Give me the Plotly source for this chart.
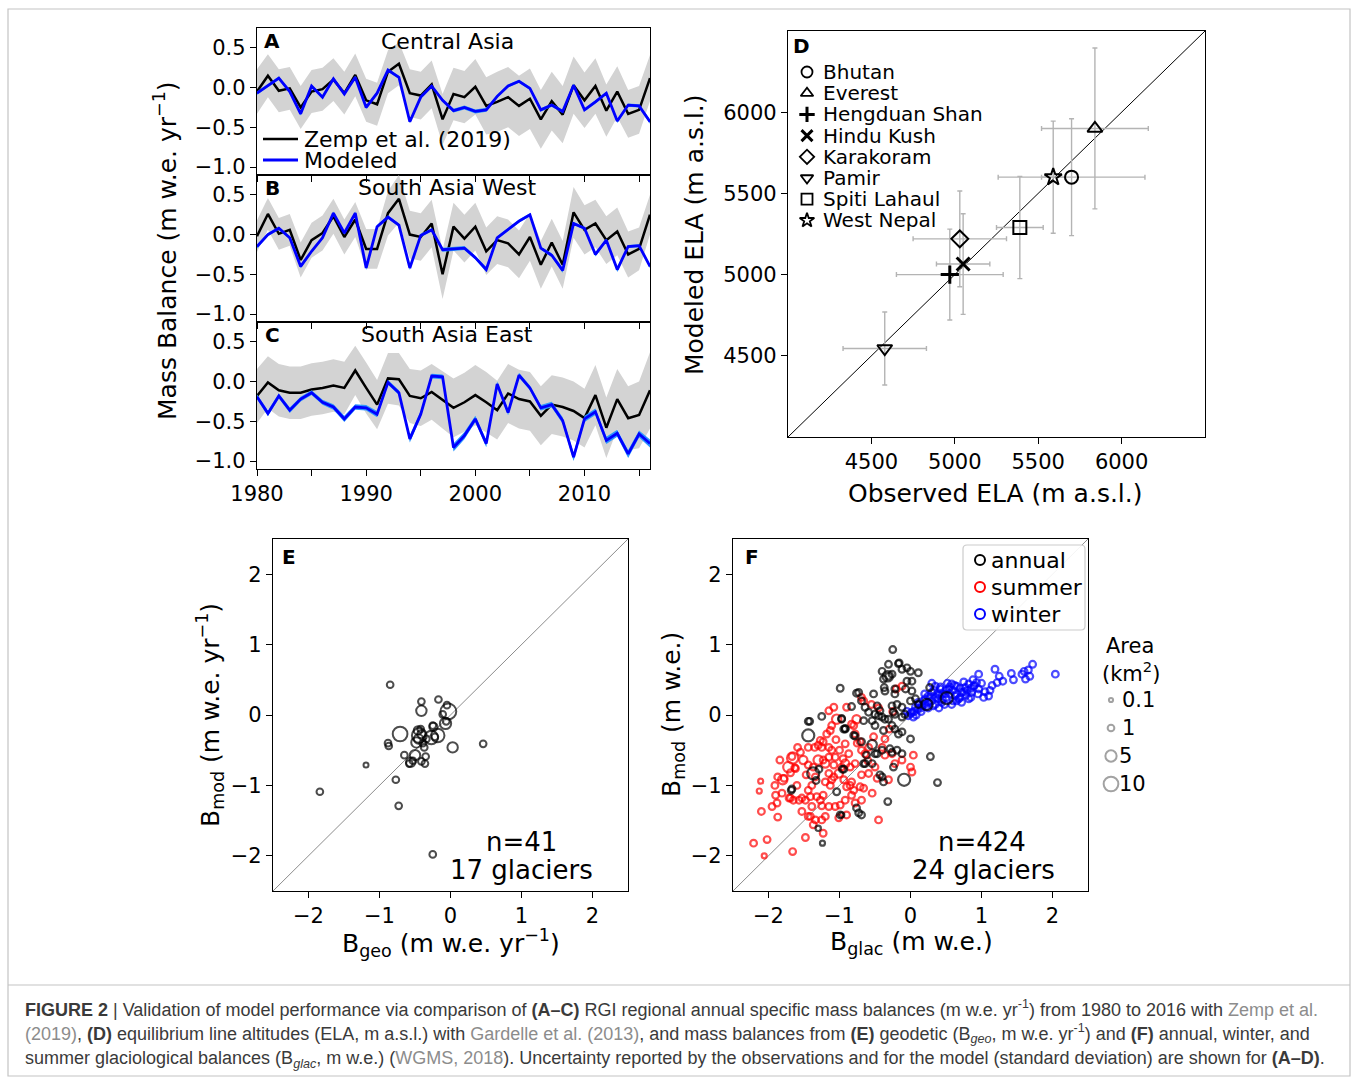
import math
import plotly.graph_objects as go

W, H = 1358, 1080
FONT = "DejaVu Sans"

# ---------------- data: panels A-C (m w.e. yr-1) ----------------
years = list(range(1980, 2017))

zemp_central = [-0.05, 0.15, -0.04, -0.01, -0.25, -0.05, -0.02, 0.10, -0.07, 0.16, -0.16, -0.21, 0.20, 0.30,
                -0.07, -0.10, 0.04, -0.40, -0.08, -0.12, 0.01, -0.23, -0.18, -0.12, -0.23, -0.14, -0.40, -0.17,
                -0.34, 0.03, -0.16, 0.02, -0.29, -0.05, -0.33, -0.28, 0.12]
zemp_central_sd = [0.28, 0.27, 0.27, 0.27, 0.27, 0.27, 0.27, 0.27, 0.27, 0.27, 0.27, 0.27, 0.27, 0.27, 0.30,
                   0.30, 0.30, 0.32, 0.33, 0.33, 0.35, 0.36, 0.38, 0.38, 0.38, 0.38, 0.37, 0.37, 0.36, 0.36,
                   0.35, 0.35, 0.33, 0.32, 0.30, 0.30, 0.29]
model_central = [-0.07, 0.02, 0.12, -0.05, -0.33, 0.02, -0.12, 0.11, -0.08, 0.13, -0.25, -0.07, 0.22, 0.13,
                 -0.43, -0.12, 0.02, -0.16, -0.29, -0.25, -0.30, -0.28, -0.11, 0.02, 0.08, -0.01, -0.28, -0.22,
                 -0.30, 0.03, -0.28, -0.18, -0.07, -0.42, -0.22, -0.23, -0.43]
model_central_sd = [0.02, 0.02, 0.02, 0.02, 0.02, 0.02, 0.02, 0.02, 0.02, 0.02, 0.02, 0.02, 0.02, 0.02, 0.02,
                    0.02, 0.02, 0.02, 0.025, 0.025, 0.025, 0.025, 0.02, 0.02, 0.02, 0.02, 0.02, 0.02, 0.02,
                    0.02, 0.02, 0.02, 0.02, 0.025, 0.02, 0.02, 0.025]

zemp_sawest = [-0.02, 0.26, 0.01, 0.06, -0.32, -0.07, 0.02, 0.23, -0.03, 0.19, -0.18, -0.18, 0.27, 0.45, 0.00,
               -0.03, 0.14, -0.50, 0.10, -0.05, 0.10, -0.21, -0.07, -0.11, -0.25, -0.03, -0.38, -0.10, -0.38,
               0.28, 0.06, 0.14, -0.07, 0.04, -0.25, -0.18, 0.25]
zemp_sawest_sd = [0.20, 0.20, 0.20, 0.20, 0.22, 0.22, 0.22, 0.22, 0.22, 0.22, 0.25, 0.25, 0.28, 0.30, 0.30,
                  0.30, 0.30, 0.31, 0.30, 0.30, 0.30, 0.30, 0.30, 0.30, 0.30, 0.30, 0.30, 0.30, 0.30, 0.32,
                  0.31, 0.30, 0.30, 0.30, 0.29, 0.27, 0.25]
model_sawest = [-0.15, 0.00, 0.08, -0.04, -0.40, -0.21, -0.04, 0.27, 0.02, 0.27, -0.42, 0.10, 0.22, 0.12,
                -0.42, -0.01, 0.06, -0.19, -0.18, -0.17, -0.29, -0.44, -0.04, 0.07, 0.17, 0.25, -0.17, -0.26,
                -0.45, 0.14, 0.08, -0.25, -0.07, -0.44, -0.15, -0.14, -0.40]
model_sawest_sd = [0.025, 0.02, 0.02, 0.02, 0.025, 0.02, 0.02, 0.02, 0.02, 0.02, 0.025, 0.02, 0.02, 0.02,
                   0.025, 0.02, 0.02, 0.025, 0.025, 0.025, 0.025, 0.03, 0.02, 0.02, 0.02, 0.02, 0.02, 0.025,
                   0.03, 0.02, 0.02, 0.025, 0.02, 0.03, 0.02, 0.02, 0.025]

zemp_saeast = [-0.18, -0.01, -0.11, -0.14, -0.14, -0.10, -0.08, -0.05, -0.08, 0.14, -0.08, -0.29, 0.04, 0.03,
               -0.18, -0.21, -0.13, -0.23, -0.33, -0.26, -0.17, -0.26, -0.36, -0.15, -0.22, -0.25, -0.43, -0.29,
               -0.32, -0.37, -0.46, -0.17, -0.58, -0.22, -0.46, -0.42, -0.11]
zemp_saeast_sd = [0.34, 0.33, 0.33, 0.33, 0.33, 0.33, 0.33, 0.33, 0.33, 0.31, 0.32, 0.31, 0.32, 0.33, 0.34,
                  0.35, 0.35, 0.36, 0.37, 0.37, 0.38, 0.38, 0.37, 0.37, 0.37, 0.37, 0.37, 0.37, 0.37, 0.37,
                  0.37, 0.38, 0.38, 0.38, 0.40, 0.42, 0.48]
model_saeast = [-0.19, -0.40, -0.18, -0.36, -0.22, -0.14, -0.26, -0.32, -0.47, -0.32, -0.33, -0.41, -0.01,
                -0.14, -0.72, -0.41, 0.07, 0.06, -0.83, -0.68, -0.47, -0.78, -0.03, -0.39, 0.08, -0.08, -0.33,
                -0.29, -0.49, -0.95, -0.47, -0.38, -0.74, -0.65, -0.91, -0.66, -0.78]
model_saeast_sd = [0.03, 0.035, 0.03, 0.035, 0.03, 0.03, 0.03, 0.035, 0.04, 0.035, 0.035, 0.04, 0.03, 0.03,
                   0.045, 0.04, 0.03, 0.03, 0.05, 0.045, 0.04, 0.045, 0.03, 0.035, 0.03, 0.03, 0.035, 0.035,
                   0.04, 0.05, 0.04, 0.04, 0.045, 0.045, 0.05, 0.045, 0.05]

region_titles = ["Central Asia", "South Asia West", "South Asia East"]
panel_letters_abc = ["A", "B", "C"]

# ---------------- data: panel D (ELA, m a.s.l.) ----------------
ela_regions = ["Bhutan", "Everest", "Hengduan Shan", "Hindu Kush", "Karakoram", "Pamir", "Spiti Lahaul", "West Nepal"]
ela_obs = [5700, 5840, 4970, 5050, 5030, 4580, 5390, 5590]
ela_obs_err = [440, 320, 320, 160, 280, 250, 140, 70]
ela_mod = [5600, 5900, 5000, 5065, 5220, 4545, 5290, 5600]
ela_mod_err = [360, 495, 280, 310, 295, 225, 315, 345]
ela_symbols = ["circle-open", "triangle-up-open", "cross-thin-open", "x-thin-open", "diamond-open",
               "triangle-down-open", "square-open", "star-open"]

# ---------------- data: panel E (geodetic) ----------------
geo_obs = [-0.85, -0.41, -0.41, -0.17, -0.05, -0.03, -0.07, -0.06, -0.25, -0.71, -0.44, -0.46, -0.27, -0.18,
           -0.22, -0.88, -0.87, -0.48, -0.37, 0.03, 0.46, -0.65, -0.50, -0.56, -0.41, -0.36, -0.35, -1.19,
           -0.77, -1.84, -0.73, -0.25, -0.45, -0.41, -0.34, -0.53, -0.58, -0.24, -0.39, -0.42, -0.11]
geo_mod = [0.43, 0.19, 0.06, 0.22, 0.14, 0.05, -0.12, -0.09, -0.15, -0.27, -0.29, -0.22, -0.32, -0.29, -0.31,
           -0.40, -0.44, -0.39, -0.46, -0.46, -0.41, -0.57, -0.57, -0.67, -0.66, -0.69, -0.59, -0.71, -0.92,
           -1.09, -1.29, -1.98, -0.34, -0.27, -0.34, -0.65, -0.69, -0.17, -0.40, -0.20, 0.01]
geo_area = [1, 1, 4, 1, 1, 12, 5, 1, 1, 10, 10, 2, 8, 8, 1, 1, 1, 4, 1, 4, 1, 1, 4, 3, 1, 1, 1, 0.3, 1, 1, 1,
            1, 3, 2, 1, 1, 1, 2, 1, 1, 1]

# ---------------- data: panel F (glaciological) (B_glac, B_mod, area) ----------------
summer = [
    (-2.21, -1.82, 1), (-2.06, -2.00, 0.3), (-2.02, -1.77, 1), (-1.66, -1.94, 1), (-1.48, -1.74, 1), (-1.23, -1.68, 1),
    (-2.10, -1.37, 1), (-1.87, -1.45, 1), (-2.11, -0.94, 0.3), (-2.13, -1.08, 0.3), (-1.91, -1.00, 1), (-1.80, -0.92, 3),
    (-1.72, -0.74, 4), (-1.67, -0.59, 1), (-1.84, -0.64, 1), (-1.87, -0.88, 1), (-1.69, -0.82, 1), (-1.62, -0.76, 1),
    (-1.59, -0.46, 1), (-1.55, -0.53, 1), (-1.44, -0.46, 1), (-1.44, -0.71, 1), (-1.35, -0.46, 1), (-1.27, -0.36, 1),
    (-1.18, -0.27, 1), (-1.11, -0.15, 1), (-1.08, 0.11, 1), (-1.04, -0.06, 3), (-0.90, 0.11, 1), (-0.80, -0.15, 1),
    (-0.78, -0.27, 1), (-0.76, -0.06, 2), (-0.69, 0.25, 1), (-0.71, -0.38, 1), (-0.69, -0.50, 1), (-0.64, -0.55, 1),
    (-1.15, -0.46, 1), (-1.15, -0.60, 1), (-1.20, -0.69, 2), (-1.30, -0.64, 3), (-1.37, -0.74, 1), (-1.34, -0.88, 1),
    (-1.39, -1.00, 1), (-1.32, -1.16, 1), (-1.44, -1.07, 1), (-1.48, -1.21, 1), (-1.57, -1.21, 1), (-1.65, -1.21, 1),
    (-1.69, -1.18, 1), (-1.81, -1.11, 1), (-1.88, -1.25, 1), (-1.15, -0.83, 1), (-1.11, -0.92, 1), (-1.01, -0.83, 2),
    (-0.97, -0.74, 1), (-0.94, -0.92, 1), (-0.90, -1.02, 1), (-0.92, -0.69, 2), (-0.85, -0.74, 1), (-0.78, -0.69, 1),
    (-0.83, -0.95, 1), (-0.80, -1.07, 1), (-0.71, -1.02, 1), (-0.69, -1.21, 1), (-0.78, -1.25, 1), (-0.92, -1.21, 1),
    (-1.01, -1.46, 1), (-1.06, -1.30, 1), (-1.15, -1.30, 1), (-1.27, -1.21, 1), (-1.39, -1.30, 1), (-1.44, -1.44, 1),
    (-1.34, -1.49, 1), (-1.25, -1.49, 1), (-1.20, -1.44, 1), (-0.59, -0.83, 1), (-0.50, -0.74, 1), (-0.47, -0.90, 1),
    (-0.52, -0.31, 1), (-0.40, -0.46, 1), (-0.36, -0.34, 1), (-0.36, -0.57, 1), (-0.26, -0.55, 1), (-0.22, -0.69, 1),
    (-0.12, -0.64, 1), (0.04, -0.57, 1), (0.00, -0.74, 1), (0.02, -0.81, 1), (-0.45, -1.49, 1), (-0.31, -0.92, 1),
    (-1.11, -0.50, 1), (-1.06, -0.60, 1), (-1.25, -0.46, 1), (-1.51, -0.64, 2), (-1.47, -0.85, 1), (-0.92, -0.41, 1),
    (-0.87, -0.55, 1), (-0.59, -0.46, 1), (-0.20, 0.37, 1), (-0.12, 0.41, 1), (-0.66, 0.20, 1), (-1.90, -1.14, 1),
    (-1.78, -0.90, 1), (-1.66, -0.61, 5), (-1.63, -0.75, 1), (-1.30, -0.43, 1), (-1.23, -0.38, 1), (-1.13, -0.22, 1),
    (-1.15, 0.06, 1), (-0.83, -0.13, 1), (-1.23, -0.64, 1), (-1.41, -1.16, 1), (-1.53, -1.18, 1), (-1.71, -1.18, 1),
    (-1.53, -1.37, 1), (-1.41, -1.44, 1), (-1.37, -1.56, 1), (-1.25, -1.29, 1), (-0.99, -1.28, 1), (-0.90, -1.42, 1),
    (-0.83, -1.14, 1), (-0.85, -1.00, 1), (-1.08, -0.71, 1), (-1.08, -0.88, 1), (-1.13, -1.00, 1), (-1.23, -1.14, 1),
    (-0.66, -1.04, 1), (-0.54, -1.11, 1), (-0.69, -0.85, 1), (-1.00, -0.50, 1), (-0.95, -0.62, 1), (-1.05, -0.35, 1),
    (-0.60, -0.65, 1), (-0.30, -0.20, 1), (-0.45, 0.10, 1), (-0.55, 0.15, 1), (-0.25, 0.05, 1), (-1.20, -0.95, 1),
    (-1.60, -1.00, 1), (-1.95, -1.30, 1), (-0.75, -0.40, 1),
]
annual = [
    (-0.25, 0.93, 1), (-0.16, 0.74, 1), (-0.40, 0.62, 1), (-0.32, 0.55, 4), (-0.38, 0.51, 1), (-0.26, 0.58, 1),
    (-0.12, 0.65, 1), (0.00, 0.62, 1), (0.11, 0.60, 1), (0.02, 0.48, 1), (-0.05, 0.48, 1), (-0.37, 0.39, 1),
    (-0.22, 0.37, 1), (0.27, 0.39, 1), (-0.99, 0.38, 1), (-0.76, 0.31, 1), (-0.52, 0.30, 1), (-0.83, 0.12, 1),
    (-0.64, 0.11, 1), (-0.59, 0.04, 1), (-0.50, 0.01, 1), (-0.43, 0.06, 1), (-0.40, -0.03, 1), (-0.54, -0.08, 1),
    (-0.31, -0.06, 1), (-0.22, 0.01, 1), (-0.12, -0.03, 1), (-0.08, 0.01, 1), (-0.19, 0.15, 1), (-0.12, 0.11, 1),
    (0.00, 0.20, 1), (0.07, 0.23, 1), (-0.26, 0.13, 1), (-1.44, -0.09, 1), (-1.25, -0.02, 1), (-0.97, -0.05, 1),
    (-0.66, -0.08, 1), (-0.92, -0.19, 1), (-0.50, -0.15, 1), (-0.38, -0.22, 1), (-0.26, -0.15, 1), (-0.22, -0.20, 1),
    (-0.17, -0.27, 1), (-0.12, -0.24, 1), (0.00, -0.34, 1), (-0.78, -0.30, 1), (-0.69, -0.38, 1), (-0.54, -0.42, 3),
    (-0.50, -0.55, 1), (-0.54, -0.69, 1), (-0.64, -0.69, 1), (-0.40, -0.50, 1), (-0.26, -0.53, 1), (-0.19, -0.50, 1),
    (-0.12, -0.55, 1), (-0.40, -0.88, 1), (-0.38, -0.95, 1), (-1.44, -0.29, 6), (-1.37, -0.83, 6), (-1.29, -0.77, 1),
    (-1.33, -0.93, 1), (-1.68, -1.07, 1), (-0.94, -0.77, 1), (-1.04, -1.09, 1), (-0.76, -1.32, 1), (-0.73, -1.39, 1),
    (-0.69, -1.42, 1), (-0.97, -1.42, 0.4), (-0.32, -1.23, 1), (-0.09, -0.92, 6), (0.28, -0.59, 1), (0.38, -0.96, 1),
    (-1.30, -1.61, 0.4), (-1.24, -1.82, 0.3), (-0.36, 0.34, 1), (-0.22, 0.30, 1), (0.23, 0.15, 5), (0.51, 0.24, 6),
    (-0.17, 0.73, 1), (-0.31, 0.72, 1), (-0.31, 0.55, 1), (-0.05, 0.67, 1), (-0.07, 0.37, 1), (0.02, 0.34, 1),
    (-0.73, 0.32, 1), (-0.69, 0.20, 1), (-0.47, 0.13, 1), (-0.45, -0.01, 1), (-0.36, -0.06, 1), (-0.24, 0.04, 1),
    (-0.29, -0.48, 1), (-0.80, -0.29, 1), (-0.97, -0.06, 1), (-0.92, -0.20, 1), (-0.47, -0.55, 1),
    (-0.24, -0.74, 1), (-0.43, -0.85, 1), (-0.66, -0.69, 1), (-0.62, -0.57, 1), (0.11, 0.15, 1),
    (-1.67, -1.05, 1), (-1.42, -0.09, 1), (-0.94, -0.20, 1), (-0.96, -0.77, 1), (-0.99, -1.42, 1),
]
winter = [
    (2.04, 0.58, 1), (1.72, 0.72, 1), (1.66, 0.64, 1), (1.57, 0.58, 1), (1.62, 0.51, 1), (1.42, 0.59, 1), (1.19, 0.65, 1),
    (1.30, 0.48, 1), (1.22, 0.46, 1), (1.15, 0.42, 1), (1.10, 0.27, 1), (1.03, 0.25, 1), (1.05, 0.33, 1), (0.96, 0.58, 1),
    (0.93, 0.46, 1), (0.89, 0.41, 1), (0.82, 0.44, 1), (0.77, 0.39, 1), (0.82, 0.23, 1), (0.72, 0.32, 1), (0.65, 0.41, 1),
    (0.58, 0.44, 1), (0.54, 0.37, 1), (0.63, 0.27, 1), (0.49, 0.30, 1), (0.42, 0.37, 1), (0.35, 0.41, 1), (0.30, 0.32, 1),
    (0.25, 0.27, 1), (0.39, 0.23, 1), (0.44, 0.18, 1), (0.68, 0.23, 1), (0.72, 0.18, 1), (0.21, 0.23, 1), (0.11, 0.18, 1),
    (0.07, 0.11, 1), (0.02, 0.04, 1), (-0.03, -0.01, 1), (0.04, -0.03, 1), (0.16, 0.13, 1), (0.32, 0.13, 1), (0.58, 0.15, 1),
    (0.86, 0.32, 1), (0.96, 0.37, 1),
    (0.05, 0.05, 1), (0.10, 0.08, 1), (0.15, 0.10, 1), (0.20, 0.15, 1), (0.25, 0.18, 1), (0.30, 0.20, 1), (0.35, 0.25, 1),
    (0.40, 0.28, 1), (0.45, 0.30, 1), (0.50, 0.25, 1), (0.55, 0.30, 1), (0.60, 0.35, 1), (0.65, 0.30, 1), (0.70, 0.38, 1),
    (0.75, 0.33, 1), (0.80, 0.35, 1), (0.85, 0.38, 1), (0.90, 0.42, 1), (0.45, 0.22, 1), (0.38, 0.30, 1), (0.28, 0.25, 1),
    (0.18, 0.20, 1), (0.12, 0.15, 1), (0.55, 0.40, 1), (0.60, 0.20, 1), (0.50, 0.35, 1), (0.42, 0.40, 1), (0.33, 0.35, 1),
    (0.22, 0.12, 1), (0.08, 0.00, 1), (0.00, 0.02, 1), (-0.05, 0.05, 1), (0.15, 0.05, 1), (0.25, 0.10, 1), (0.35, 0.15, 1),
    (0.48, 0.15, 1), (0.52, 0.45, 1), (0.62, 0.42, 1), (0.70, 0.25, 1), (0.78, 0.28, 1), (1.00, 0.45, 1), (1.12, 0.35, 1),
    (1.25, 0.55, 1), (1.60, 0.62, 1), (1.68, 0.55, 1), (1.45, 0.50, 1), (0.95, 0.30, 1), (0.88, 0.50, 1), (0.75, 0.47, 1),
    (0.30, 0.45, 1), (0.20, 0.30, 1), (0.40, 0.10, 1), (0.65, 0.20, 1), (0.85, 0.25, 1),
]
season_names = ["annual", "summer", "winter"]
season_colors = ["#000000", "#ff0000", "#0000ff"]
legend_areas = [0.1, 1, 5, 10]
legend_area_labels = ["0.1", "1", "5", "10"]


# ---------------- helpers ----------------
def size_of(a):
    return 3.0 + 3.7 * math.sqrt(a)


def fx(x):
    return x / W


def fy(y):
    return 1 - y / H


annotations = []


def ann(x, y, text, size=21, xanchor="center", yanchor="middle", angle=0, color="black", family=FONT):
    annotations.append(dict(x=fx(x), y=fy(y), xref="paper", yref="paper", text=text, showarrow=False,
                            xanchor=xanchor, yanchor=yanchor, textangle=angle, borderpad=0,
                            font=dict(family=family, size=size, color=color)))


fig = go.Figure()

# ---------------- panels A-C ----------------
series = [
    (zemp_central, zemp_central_sd, model_central, model_central_sd),
    (zemp_sawest, zemp_sawest_sd, model_sawest, model_sawest_sd),
    (zemp_saeast, zemp_saeast_sd, model_saeast, model_saeast_sd),
]
for k, (zv, zs, mv, ms) in enumerate(series):
    xa = "x" if k == 0 else f"x{k + 1}"
    ya = "y" if k == 0 else f"y{k + 1}"
    common = dict(xaxis=xa, yaxis=ya, showlegend=False, hoverinfo="skip")
    fig.add_trace(go.Scatter(x=years, y=[a + b for a, b in zip(zv, zs)], mode="lines",
                             line=dict(width=0, color="#d3d3d3"), **common))
    fig.add_trace(go.Scatter(x=years, y=[a - b for a, b in zip(zv, zs)], mode="lines",
                             line=dict(width=0, color="#d3d3d3"), fill="tonexty", fillcolor="#d3d3d3", **common))
    fig.add_trace(go.Scatter(x=years, y=zv, mode="lines", line=dict(width=2.5, color="black"), **common))
    fig.add_trace(go.Scatter(x=years, y=[a + b for a, b in zip(mv, ms)], mode="lines",
                             line=dict(width=0, color="#2b95ff"), **common))
    fig.add_trace(go.Scatter(x=years, y=[a - b for a, b in zip(mv, ms)], mode="lines",
                             line=dict(width=0, color="#2b95ff"), fill="tonexty", fillcolor="#2b95ff", **common))
    fig.add_trace(go.Scatter(x=years, y=mv, mode="lines", line=dict(width=2.8, color="#0000ff"), **common))

# ---------------- panel D ----------------
fig.add_trace(go.Scatter(x=[4000, 6500], y=[4000, 6500], mode="lines", line=dict(width=1, color="black"),
                         xaxis="x4", yaxis="y4", showlegend=False, hoverinfo="skip"))
fig.add_trace(go.Scatter(x=ela_obs, y=ela_mod, mode="markers", marker=dict(size=1, color="rgba(0,0,0,0)"),
                         error_x=dict(type="data", array=ela_obs_err, color="#b4b4b4", thickness=1.4, width=2.5),
                         error_y=dict(type="data", array=ela_mod_err, color="#b4b4b4", thickness=1.4, width=2.5),
                         xaxis="x4", yaxis="y4", showlegend=False, hoverinfo="skip"))
d_lw = [2 if "thin" not in s else 3 for s in ela_symbols]
fig.add_trace(go.Scatter(x=ela_obs, y=ela_mod, mode="markers", text=ela_regions,
                         marker=dict(symbol=ela_symbols, size=13, color="black", line=dict(width=d_lw, color="black")),
                         xaxis="x4", yaxis="y4", showlegend=False))

# ---------------- panel E ----------------
fig.add_trace(go.Scatter(x=[-2.5, 2.5], y=[-2.5, 2.5], mode="lines", line=dict(width=1, color="#8c8c8c"),
                         xaxis="x5", yaxis="y5", showlegend=False, hoverinfo="skip"))
fig.add_trace(go.Scatter(x=geo_obs, y=geo_mod, mode="markers",
                         marker=dict(symbol="circle-open", size=[size_of(a) for a in geo_area], color="black",
                                     line=dict(width=2, color="black")),
                         xaxis="x5", yaxis="y5", showlegend=False))

# ---------------- panel F ----------------
fig.add_trace(go.Scatter(x=[-2.5, 2.5], y=[-2.5, 2.5], mode="lines", line=dict(width=1, color="#8c8c8c"),
                         xaxis="x6", yaxis="y6", showlegend=False, hoverinfo="skip"))
for pts, col in [(summer, "#ff0000"), (winter, "#0000ff"), (annual, "#000000")]:
    fig.add_trace(go.Scatter(x=[p[0] for p in pts], y=[p[1] for p in pts], mode="markers",
                             marker=dict(symbol="circle-open", size=[size_of(p[2]) for p in pts], color=col,
                                         line=dict(width=2.2, color=col)),
                             xaxis="x6", yaxis="y6", showlegend=False))

# ---------------- legends (overlay pixel axis x7/y7) ----------------
leg_common = dict(xaxis="x7", yaxis="y7", showlegend=False, hoverinfo="skip", mode="markers")
d_leg_y = [72 + 21.2 * k for k in range(len(ela_regions))]
fig.add_trace(go.Scatter(x=[807] * len(ela_regions), y=d_leg_y,
                         marker=dict(symbol=ela_symbols, size=11, color="black",
                                     line=dict(width=[1.8 if "thin" not in s else 3 for s in ela_symbols],
                                               color="black")), **leg_common))
f_leg_y = [560, 587, 614]
fig.add_trace(go.Scatter(x=[980] * 3, y=f_leg_y,
                         marker=dict(symbol="circle-open", size=10, color=season_colors,
                                     line=dict(width=2, color=season_colors)), **leg_common))
a_leg_y = [700, 728, 756, 784]
fig.add_trace(go.Scatter(x=[1111] * 4, y=a_leg_y,
                         marker=dict(symbol="circle-open", size=[size_of(a) for a in legend_areas], color="#7a7a7a",
                                     line=dict(width=2, color="#7a7a7a")), **leg_common))

# ---------------- axes ----------------
base = dict(showline=True, linecolor="black", linewidth=1.3, mirror=True, ticks="outside", ticklen=6,
            tickwidth=1.3, tickcolor="black", showgrid=False, zeroline=False, automargin=False,
            tickfont=dict(family=FONT, size=21, color="black"))
yr_ticks = [1980, 1990, 2000, 2010]
yr_text = [str(v) for v in yr_ticks]
mb_ticks = [-1.0, -0.5, 0.0, 0.5]
mb_text = ["\u22121.0", "\u22120.5", "0.0", "0.5"]
panel_y = [(28, 175), (175, 322), (322, 469)]
layout_axes = {}
for k, (t, b) in enumerate(panel_y):
    xs = "xaxis" if k == 0 else f"xaxis{k + 1}"
    ys = "yaxis" if k == 0 else f"yaxis{k + 1}"
    anc_x = "y" if k == 0 else f"y{k + 1}"
    anc_y = "x" if k == 0 else f"x{k + 1}"
    layout_axes[xs] = dict(base, domain=[fx(257), fx(650)], range=[1980, 2016], anchor=anc_x,
                           tickvals=yr_ticks, ticktext=yr_text, showticklabels=(k == 2),
                           minor=dict(dtick=5, tick0=1980, ticks="outside", ticklen=6, tickwidth=1.3,
                                      tickcolor="black", showgrid=False))
    layout_axes[ys] = dict(base, domain=[fy(b), fy(t)], range=[-1.1, 0.75], anchor=anc_y,
                           tickvals=mb_ticks, ticktext=mb_text)

ela_ticks = [4500, 5000, 5500, 6000]
layout_axes["xaxis4"] = dict(base, domain=[fx(788), fx(1205)], range=[4000, 6500], anchor="y4",
                             tickvals=ela_ticks, ticktext=[str(v) for v in ela_ticks])
layout_axes["yaxis4"] = dict(base, domain=[fy(437), fy(31)], range=[4000, 6500], anchor="x4",
                             tickvals=ela_ticks, ticktext=[str(v) for v in ela_ticks])
b_ticks = [-2, -1, 0, 1, 2]
b_text = ["\u22122", "\u22121", "0", "1", "2"]
layout_axes["xaxis5"] = dict(base, domain=[fx(273), fx(628)], range=[-2.5, 2.5], anchor="y5",
                             tickvals=b_ticks, ticktext=b_text)
layout_axes["yaxis5"] = dict(base, domain=[fy(891), fy(539)], range=[-2.5, 2.5], anchor="x5",
                             tickvals=b_ticks, ticktext=b_text)
layout_axes["xaxis6"] = dict(base, domain=[fx(733), fx(1088)], range=[-2.5, 2.5], anchor="y6",
                             tickvals=b_ticks, ticktext=b_text)
layout_axes["yaxis6"] = dict(base, domain=[fy(891), fy(539)], range=[-2.5, 2.5], anchor="x6",
                             tickvals=b_ticks, ticktext=b_text)
layout_axes["xaxis7"] = dict(domain=[0, 1], range=[0, W], anchor="y7", visible=False, fixedrange=True,
                             automargin=False)
layout_axes["yaxis7"] = dict(domain=[0, 1], range=[H, 0], anchor="x7", visible=False, fixedrange=True,
                             automargin=False)

# ---------------- texts ----------------
for k, (t, b) in enumerate(panel_y):
    ann(272, t + 13, "<b>%s</b>" % panel_letters_abc[k], size=20)
    ann(447, t + 13, region_titles[k], size=22)
ann(303, 139, "Zemp et al. (2019)", size=22, xanchor="left")
ann(303, 160, "Modeled", size=22, xanchor="left")
ann(165, 251, "Mass Balance (m w.e. yr<sup>\u22121</sup>)", size=25, angle=-90)

ann(801, 46, "<b>D</b>", size=20)
for k, name in enumerate(ela_regions):
    ann(822, d_leg_y[k], name, size=20, xanchor="left")
ann(996, 493, "Observed ELA (m a.s.l.)", size=25)
ann(695, 235, "Modeled ELA (m a.s.l.)", size=25, angle=-90)

ann(289, 557, "<b>E</b>", size=20)
ann(521, 842, "n=41", size=26)
ann(521, 870, "17 glaciers", size=26)
ann(451, 943, "B<sub>geo</sub> (m w.e. yr<sup>\u22121</sup>)", size=25)
ann(210, 715, "B<sub>mod</sub> (m w.e. yr<sup>\u22121</sup>)", size=25, angle=-90)

ann(752, 557, "<b>F</b>", size=20)
ann(982, 842, "n=424", size=26)
ann(983, 870, "24 glaciers", size=26)
ann(912, 943, "B<sub>glac</sub> (m w.e.)", size=25)
ann(673, 715, "B<sub>mod</sub> (m w.e.)", size=25, angle=-90)
for k, name in enumerate(season_names):
    ann(990, f_leg_y[k], name, size=22, xanchor="left")
ann(1130, 646, "Area", size=21)
ann(1131, 672, "(km<sup>2</sup>)", size=21)
for k, lab in enumerate(legend_area_labels):
    ann(1121 if k < 2 else 1118, a_leg_y[k], lab, size=21, xanchor="left")

# caption
CAP = "Liberation Sans"
LINK = "#8c8c8c"
cap_lines = [
    "<b>FIGURE 2</b> | Validation of model performance via comparison of <b>(A\u2013C)</b> RGI regional annual "
    "specific mass balances (m w.e. yr<sup>-1</sup>) from 1980 to 2016 with "
    "<span style='color:%s'>Zemp et al.</span>" % LINK,
    "<span style='color:%s'>(2019)</span>, <b>(D)</b> equilibrium line altitudes (ELA, m a.s.l.) with "
    "<span style='color:%s'>Gardelle et al. (2013)</span>, and mass balances from <b>(E)</b> geodetic "
    "(B<sub><i>geo</i></sub>, m w.e. yr<sup>-1</sup>) and <b>(F)</b> annual, winter, and" % (LINK, LINK),
    "summer glaciological balances (B<sub><i>glac</i></sub>, m w.e.) (<span style='color:%s'>WGMS, 2018</span>). "
    "Uncertainty reported by the observations and for the model (standard deviation) are shown for "
    "<b>(A\u2013D)</b>." % LINK,
]
for k, line in enumerate(cap_lines):
    ann(24, 1008 + 25.5 * k, line, size=18, xanchor="left", color="#3a3a3a", family=CAP)

# ---------------- shapes ----------------
shapes = [
    dict(type="rect", xref="paper", yref="paper", x0=fx(8), y0=fy(1076), x1=fx(1350), y1=fy(9),
         line=dict(color="#c4c4c4", width=1.2), fillcolor="rgba(0,0,0,0)", layer="below"),
    dict(type="line", xref="paper", yref="paper", x0=fx(8), y0=fy(985), x1=fx(1350), y1=fy(985),
         line=dict(color="#c4c4c4", width=1.2)),
    dict(type="line", xref="x7", yref="y7", x0=263, y0=139, x1=298, y1=139, line=dict(color="black", width=2.5)),
    dict(type="line", xref="x7", yref="y7", x0=263, y0=160, x1=298, y1=160, line=dict(color="#0000ff", width=2.8)),
]
x0, x1, y0, y1, r = 963, 1085, 545, 630, 4
box_path = (f"M {x0 + r},{y0} L {x1 - r},{y0} Q {x1},{y0} {x1},{y0 + r} L {x1},{y1 - r} Q {x1},{y1} {x1 - r},{y1} "
            f"L {x0 + r},{y1} Q {x0},{y1} {x0},{y1 - r} L {x0},{y0 + r} Q {x0},{y0} {x0 + r},{y0} Z")
shapes.append(dict(type="path", xref="x7", yref="y7", path=box_path, fillcolor="rgba(255,255,255,0.9)",
                   line=dict(color="#cccccc", width=1.2), layer="below"))

fig.update_layout(template="none", width=W, height=H, margin=dict(l=0, r=0, t=0, b=0, pad=0, autoexpand=False),
                  paper_bgcolor="white", plot_bgcolor="rgba(0,0,0,0)", showlegend=False,
                  annotations=annotations, shapes=shapes,
                  font=dict(family=FONT, color="black"), **layout_axes)

fig.write_html("out.html", config={"displayModeBar": False},
               post_script="document.body.style.margin='0';document.body.style.overflow='hidden';")
